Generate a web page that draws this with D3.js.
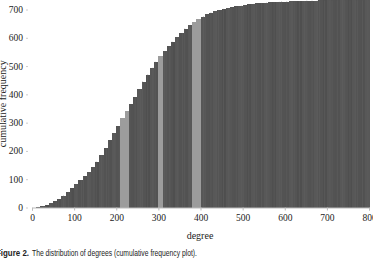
<!DOCTYPE html>
<html>
<head>
<meta charset="utf-8">
<script src="https://cdn.jsdelivr.net/npm/d3@7"></script>
<style>
  html, body { margin: 0; padding: 0; background: #fff; overflow: hidden; }
  svg { display: block; }
</style>
</head>
<body>
<svg id="chart" width="373" height="262"></svg>
<script>
// bins of 10 degrees, cumulative count at each bin
const degrees = d3.range(0, 800, 10);
const cumFreq = [
  0, 2, 5, 9, 15, 22, 30, 42, 55, 68,
  82, 96, 110, 125, 143, 162, 185, 210, 238, 262,
  288, 318, 340, 365, 390, 418, 445, 470, 494, 515,
  535, 552, 570, 586, 602, 617, 632, 645, 656, 666,
  675, 683, 689, 694, 698, 702, 705, 708, 711, 713,
  716, 718, 720, 722, 723, 724, 725, 726, 727, 728,
  728, 729, 729, 730, 730, 731, 731, 731, 732, 732,
  732, 732, 733, 733, 733, 733, 733, 733, 733, 733
];
// the bins drawn in light grey
const highlighted = [210, 220, 300, 380, 390];
const xTicks = [0, 100, 200, 300, 400, 500, 600, 700, 800];
const yTicks = [0, 100, 200, 300, 400, 500, 600, 700];

const serif = "'Liberation Serif', 'DejaVu Serif', serif";
const narrow = "'Liberation Sans Narrow', 'Liberation Sans', sans-serif";
const svg = d3.select("#chart");

const x = d3.scaleLinear().domain([0, 800]).range([32, 369]);
const y = d3.scaleLinear().domain([0, 700]).range([207.5, 9.5]);

const data = degrees.map((d, i) => ({deg: d, val: cumFreq[i]}));
const shades = ["#525252", "#585858", "#545454", "#4f4f4f", "#575757", "#535353"];

// bars
svg.append("g")
  .attr("shape-rendering", "crispEdges")
  .selectAll("rect")
  .data(data)
  .join("rect")
  .attr("x", d => x(d.deg))
  .attr("width", d => x(d.deg + 10) - x(d.deg) + 0.6)
  .attr("y", d => y(d.val))
  .attr("height", d => y(0) - y(d.val))
  .attr("fill", (d, i) => highlighted.includes(d.deg) ? "#9c9c9c" : shades[i % shades.length]);

// faint stripes inside the bars
svg.append("g")
  .selectAll("line")
  .data(data.filter(d => !highlighted.includes(d.deg)))
  .join("line")
  .attr("x1", (d, i) => x(d.deg) + 1 + (i % 3))
  .attr("x2", (d, i) => x(d.deg) + 1 + (i % 3))
  .attr("y1", d => y(d.val))
  .attr("y2", y(0))
  .attr("stroke", "#5f5f5f")
  .attr("stroke-width", 0.6);

// x axis
const xAxis = svg.append("g")
  .attr("transform", `translate(0,${y(0)})`)
  .call(d3.axisBottom(x).tickValues(xTicks).tickSize(3).tickPadding(4));
xAxis.select(".domain").attr("stroke", "#bbb");
xAxis.selectAll(".tick line").attr("stroke", "#bbb");
xAxis.selectAll("text")
  .style("font-family", serif)
  .style("font-size", "9.5px")
  .attr("fill", "#222");

// y axis
const yAxis = svg.append("g")
  .attr("transform", `translate(${x(0) - 4},0)`)
  .call(d3.axisLeft(y).tickValues(yTicks).tickSize(2).tickPadding(3));
yAxis.select(".domain").remove();
yAxis.selectAll(".tick line").attr("stroke", "#ccc");
yAxis.selectAll("text")
  .style("font-family", serif)
  .style("font-size", "9.5px")
  .attr("fill", "#222");

// axis titles
svg.append("text")
  .attr("x", 200)
  .attr("y", 239)
  .attr("text-anchor", "middle")
  .style("font-family", serif)
  .style("font-size", "10px")
  .attr("fill", "#222")
  .text("degree");

svg.append("text")
  .attr("transform", `translate(6,${y(0) / 2}) rotate(-90)`)
  .attr("text-anchor", "middle")
  .style("font-family", serif)
  .style("font-size", "10px")
  .attr("fill", "#222")
  .text("cumulative frequency");

// caption, in two pieces so each can be squeezed to the narrow face
svg.append("text")
  .attr("x", -4)
  .attr("y", 256)
  .attr("textLength", 33)
  .attr("lengthAdjust", "spacingAndGlyphs")
  .style("font-family", narrow)
  .style("font-size", "9.5px")
  .style("font-weight", "bold")
  .attr("fill", "#222")
  .text("Figure 2.");

svg.append("text")
  .attr("x", 32)
  .attr("y", 256)
  .attr("textLength", 165)
  .attr("lengthAdjust", "spacingAndGlyphs")
  .style("font-family", narrow)
  .style("font-size", "9.5px")
  .attr("fill", "#222")
  .text("The distribution of degrees (cumulative frequency plot).");
</script>
</body>
</html>
